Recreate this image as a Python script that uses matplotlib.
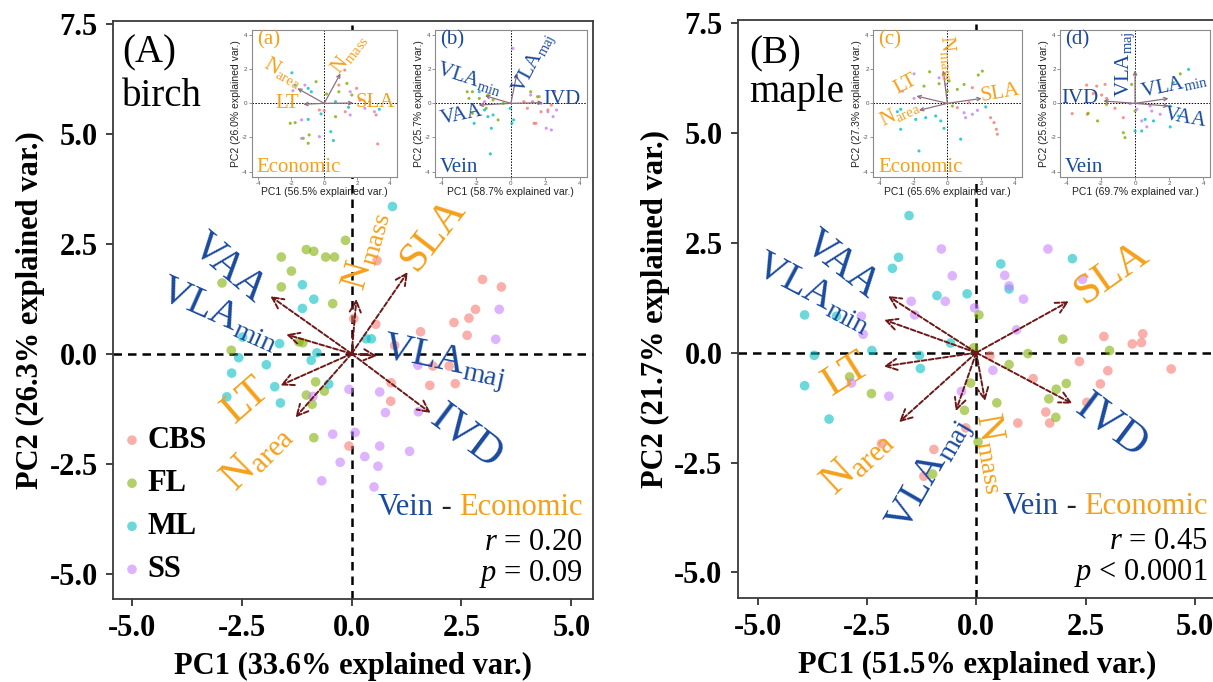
import matplotlib.pyplot as plt
from matplotlib.ticker import FormatStrFormatter

plt.rcParams['font.family'] = ['Liberation Serif', 'DejaVu Serif']
plt.rcParams['mathtext.fontset'] = 'custom'
plt.rcParams['mathtext.rm'] = 'Liberation Serif'
plt.rcParams['mathtext.it'] = 'Liberation Serif:italic'
plt.rcParams['axes.unicode_minus'] = False

groups = ['CBS', 'FL', 'ML', 'SS']
group_colors = ['#F8766D', '#7CAE00', '#00BFC4', '#C77CFF']
BLUE = '#1A4A9E'
ORANGE = '#F5A01A'
ARROW = '#6E1717'
INSET_ARROW = '#8E6E7E'

# ---- main PCA scores (PC1, PC2) ----
birch_pts = {
    'CBS': [(0.58, 2.12), (0.05, 0.8), (0.55, 0.67), (2.98, 1.69), (3.41, 1.52), (2.82, 1.01),
            (2.33, 0.71), (2.67, 0.81), (1.57, 0.5), (2.63, 0.42), (0.98, 0.19), (1.85, -0.28),
            (2.22, -0.28), (1.78, -0.72), (2.36, -0.68), (0.9, -0.66), (0.89, -1.08), (-0.06, -2.1)],
    'FL': [(-0.14, 2.58), (-1.6, 2.2), (-1.03, 2.37), (-0.86, 2.33), (-0.59, 2.2), (-0.39, 2.2),
           (-1.37, 1.88), (-2.95, 1.61), (-1.6, 1.52), (-0.43, 1.14), (-1.2, 0.27), (-1.11, 0.25),
           (-2.74, 0.08), (-0.82, -0.64), (-1.03, -0.94), (-0.62, -0.85), (-0.9, -1.15), (-0.86, -1.91)],
    'ML': [(0.93, 3.35), (-1.12, 1.57), (-0.86, 1.24), (-1.12, 1.03), (0.33, 0.34), (0.45, 0.34),
           (-2.48, 0.38), (-1.64, 0.23), (-0.79, 0.02), (-0.92, -0.15), (-2.57, -0.09), (-1.94, -0.25),
           (-2.73, -0.44), (-2.84, -0.98), (-1.75, -0.75), (-1.62, -1.12), (-0.52, -0.69)],
    'SS': [(3.36, 1.01), (3.28, 0.33), (1.51, -0.26), (-0.06, -0.81), (0.64, -0.87), (0.77, -1.34),
           (1.52, -1.32), (-0.88, -0.97), (-0.43, -1.83), (0.08, -1.79), (0.64, -2.1), (1.32, -2.22),
           (0.3, -2.34), (-0.26, -2.47), (0.6, -2.56), (-0.68, -2.89), (0.51, -3.03)],
}

maple_pts = {
    'CBS': [(2.92, 0.37), (3.57, 0.2), (3.78, 0.23), (3.81, 0.43), (2.36, -0.2), (3.01, -0.41),
            (4.46, -0.37), (1.3, -0.59), (2.84, -0.71), (0.31, -0.07), (2.53, -1.13), (1.59, -1.35),
            (0.95, -1.6), (1.68, -1.6), (-0.24, -1.71), (-0.97, -2.2), (-1.2, -2.81), (-2.17, -2.07)],
    'FL': [(0.06, 0.86), (1.98, 0.31), (3.05, 0.05), (1.18, -0.02), (0.75, -0.27), (-0.06, 0.11),
           (-2.9, -0.55), (-2.4, -0.93), (-0.13, -0.69), (0.47, -1.14), (-0.27, -1.31), (2.06, -0.7),
           (1.83, -0.83), (1.66, -1.05), (1.82, -1.47), (0.04, -2.03), (-1.0, -2.76)],
    'ML': [(-1.54, 3.12), (-1.78, 2.17), (-1.92, 1.92), (0.56, 2.02), (2.2, 2.14), (-0.9, 1.3),
           (-0.21, 1.34), (0.75, 1.45), (-3.93, 0.86), (-3.2, 0.83), (-0.59, 0.22), (-3.71, -0.06),
           (-2.39, 0.05), (-1.3, -0.06), (-1.28, -0.36), (-3.93, -0.75), (-3.37, -1.51)],
    'SS': [(-0.8, 2.36), (-0.55, 1.75), (0.65, 1.76), (0.75, 1.52), (1.64, 2.36), (1.08, 1.22),
           (2.43, 1.67), (-1.49, 1.17), (-0.71, 1.17), (-1.41, 0.86), (-0.04, 1.02), (-2.63, 0.83),
           (-2.59, 0.42), (0.92, 0.52), (0.38, -0.4), (-2.86, -0.69), (-2.0, -0.99), (-0.34, -0.88)],
}

# ---- loadings (arrow tips) ----
birch_traits = ['VAA', 'VLAmin', 'Nmass', 'SLA', 'VLAmaj', 'IVD', 'LT', 'Narea']
birch_load_x = [-1.85, -1.49, 0.11, 1.28, 0.58, 1.8, -1.62, -1.28]
birch_load_y = [1.31, 0.44, 1.25, 1.86, -0.05, -1.35, -0.72, -1.45]

maple_traits = ['VAA', 'VLAmin', 'SLA', 'LT', 'Narea', 'VLAmaj', 'Nmass', 'IVD']
maple_load_x = [-2.02, -2.11, 2.12, -2.12, -1.77, -0.47, 0.2, 2.2]
maple_load_y = [1.29, 0.75, 1.17, -0.31, -1.58, -1.33, -1.1, -1.16]

# ---- inset PCAs: economic traits and vein traits ----
inset_a_pts = {
    'CBS': [(1.25, 1.95), (0.89, 1.07), (1.97, 0.88), (-0.29, -0.39), (0.0, -0.43), (1.28, -0.49),
            (2.76, 0.1), (3.15, -0.68), (3.25, -2.38), (2.17, 0.19)],
    'FL': [(-0.49, 1.27), (0.14, 0.55), (0.89, 0.68), (1.38, 1.17), (1.68, 0.49), (-2.06, -1.17),
           (-1.76, -1.13), (-1.27, -2.05), (-0.91, -1.85), (-0.97, -2.34), (0.69, -0.78)],
    'ML': [(-1.96, 1.79), (-0.97, 0.88), (-0.78, 0.68), (-1.76, 1.07), (-0.97, -0.94), (0.4, -1.66),
           (0.56, -2.18), (0.69, 0.1), (1.48, -0.23), (3.35, -0.35), (-0.19, -0.62)],
    'SS': [(-1.9, 0.74), (-1.17, 1.07), (-1.37, -0.97), (-1.37, -2.05), (-0.29, -1.95), (1.58, -0.68),
           (1.58, 0.68), (3.05, -0.49), (2.47, -0.29)],
}
inset_a_traits = ['Narea', 'Nmass', 'LT', 'SLA']
inset_a_x = [-1.63, 0.99, -1.27, 1.77]
inset_a_y = [0.88, 1.75, -0.05, 0.02]

inset_b_pts = {
    'CBS': [(0.76, 0.1), (0.96, -0.29), (1.26, 0.1), (1.65, 0.39), (1.75, -0.49), (1.35, -1.17),
            (1.45, -1.17), (2.15, -0.39), (2.55, 0.68), (2.35, -0.1)],
    'FL': [(-2.53, 0.68), (-2.23, 0.68), (-2.43, 0.29), (-1.83, 0.29), (-1.33, 0.49), (-1.03, 0.2),
           (-0.44, 0.0), (-2.23, -0.58), (-1.43, -0.29), (-0.74, -0.97), (1.15, 0.68), (1.55, 0.39)],
    'ML': [(-1.13, -1.46), (-1.19, -2.96), (-1.83, 0.68), (-1.53, -0.39), (-2.13, -1.17), (-1.33, -0.78),
           (-1.03, -0.68), (-0.04, -0.29), (0.16, -0.97), (0.06, -1.17)],
    'SS': [(0.12, 3.22), (-1.53, 0.1), (1.15, 0.49), (1.75, 0.0), (2.15, -0.49), (2.65, -0.39),
           (2.45, -0.78), (2.05, -1.46), (2.35, -1.56)],
}
inset_b_traits = ['VLAmin', 'VLAmaj', 'IVD', 'VAA']
inset_b_x = [-1.5, 0.36, 1.85, -1.87]
inset_b_y = [0.45, 1.79, 0.04, -0.1]

inset_c_pts = {
    'CBS': [(1.48, 0.92), (2.56, -0.84), (2.76, -1.13), (2.9, -1.52), (2.96, -1.81), (0.59, -0.25),
            (1.28, 0.04)],
    'FL': [(-1.05, 1.85), (-0.49, 1.15), (0.1, 1.31), (0.0, 0.72), (0.59, 0.82), (0.99, 1.11),
           (1.83, 1.66), (2.07, 1.89), (-1.38, 1.01), (0.3, -0.16)],
    'ML': [(-2.76, -0.35), (-2.96, -0.49), (-1.87, -0.94), (-1.28, -0.84), (-0.69, -0.74), (-0.39, -1.03),
           (-0.2, -1.46), (-2.76, -1.52), (-1.68, -2.79), (0.79, -2.1), (2.27, -0.21)],
    'SS': [(-1.97, 1.73), (-2.66, 0.72), (-1.97, 0.29), (0.99, -0.55), (1.08, -0.84), (1.48, -0.64),
           (1.78, -0.41), (-0.1, 1.11), (-0.49, 1.5)],
}
inset_c_traits = ['LT', 'Narea', 'Nmass', 'SLA']
inset_c_x = [-1.83, -1.68, -0.24, 2.03]
inset_c_y = [0.43, -0.41, 1.93, 0.29]

inset_d_pts = {
    'CBS': [(-2.84, 1.07), (-2.25, 1.01), (-1.76, 1.11), (-2.45, 0.57), (-1.96, 0.49), (-1.67, 0.29),
            (-2.8, -0.64), (-3.69, -0.6), (-1.18, -0.29), (-0.69, -0.84)],
    'FL': [(-2.75, -0.58), (-2.2, -1.03), (-0.69, -1.72), (-0.59, -2.01), (-0.2, 1.11), (2.65, 1.73),
           (-1.67, -0.06), (0.0, -0.45)],
    'ML': [(3.14, 1.99), (2.25, 1.21), (2.06, -0.16), (1.08, -1.03), (0.59, -0.94), (0.39, -1.62),
           (0.0, -1.62), (2.55, -0.74), (2.06, -1.38)],
    'SS': [(0.1, -0.35), (0.39, -1.03), (0.69, -1.38), (0.98, -0.45), (1.47, -0.64), (0.88, -0.16),
           (-0.29, -0.02)],
}
inset_d_traits = ['VLAmaj', 'IVD', 'VLAmin', 'VAA']
inset_d_x = [0.0, -1.86, 1.96, 1.96]
inset_d_y = [1.93, 0.14, 0.29, -0.16]

trait_text = {
    'VAA': 'VAA', 'IVD': 'IVD', 'LT': 'LT', 'SLA': 'SLA',
    'VLAmin': r'VLA$_{\mathrm{min}}$', 'VLAmaj': r'VLA$_{\mathrm{maj}}$',
    'Nmass': r'N$_{\mathrm{mass}}$', 'Narea': r'N$_{\mathrm{area}}$',
}
trait_color = {'VAA': BLUE, 'IVD': BLUE, 'VLAmin': BLUE, 'VLAmaj': BLUE,
               'LT': ORANGE, 'SLA': ORANGE, 'Nmass': ORANGE, 'Narea': ORANGE}

# label placement: (x, y, rotation, fontsize)
birch_lab = {
    'VAA': (-2.8, 1.95, -40, 30), 'VLAmin': (-3.0, 0.9, -24, 29), 'Nmass': (0.33, 2.35, 74, 27),
    'SLA': (1.85, 2.7, 52, 31), 'VLAmaj': (2.1, -0.2, -12, 29), 'IVD': (2.6, -1.9, -37, 32),
    'LT': (-2.4, -1.06, 41, 31), 'Narea': (-2.15, -2.35, 45, 30),
}
maple_lab = {
    'VAA': (-3.09, 2.0, -38, 30), 'VLAmin': (-3.72, 1.36, -28, 29), 'SLA': (3.09, 1.81, 35, 31),
    'LT': (-2.97, -0.5, 32, 31), 'Narea': (-2.72, -2.47, 43, 30), 'VLAmaj': (-1.05, -2.8, 60, 29),
    'Nmass': (0.38, -2.28, -80, 27), 'IVD': (3.09, -1.67, -37, 32),
}
inset_a_lab = {'Narea': (-2.5, 1.85, -30, 15), 'Nmass': (1.5, 2.9, 52, 15),
               'LT': (-2.25, 0.0, 0, 15), 'SLA': (3.1, 0.05, 0, 15)}
inset_b_lab = {'VLAmin': (-2.4, 1.45, -18, 15), 'VLAmaj': (1.35, 2.35, 62, 15),
               'IVD': (2.95, 0.2, 0, 15), 'VAA': (-2.85, -0.7, 12, 15)}
inset_c_lab = {'LT': (-2.45, 1.1, 28, 15), 'Narea': (-2.85, -0.55, 25, 15),
               'Nmass': (0.05, 2.65, -85, 15), 'SLA': (3.15, 0.6, 10, 15)}
inset_d_lab = {'VLAmaj': (-0.6, 2.3, 90, 15), 'IVD': (-3.25, 0.3, 0, 15),
               'VLAmin': (2.3, 1.1, 12, 15), 'VAA': (2.95, -0.85, -10, 15)}


def draw_main(ax, pts, traits, lx, ly, lab, xlabel, ylabel):
    for g, c in zip(groups, group_colors):
        xs = [p[0] for p in pts[g]]
        ys = [p[1] for p in pts[g]]
        ax.scatter(xs, ys, s=48, color=c, alpha=0.58, edgecolors='none', label=g, zorder=2)
    ax.axhline(0, color='black', lw=1.8, ls=(0, (3.4, 2.4)), zorder=1)
    ax.axvline(0, color='black', lw=1.8, ls=(0, (3.4, 2.4)), zorder=1)
    for t, x, y in zip(traits, lx, ly):
        ax.annotate('', xy=(x, y), xytext=(0, 0),
                    arrowprops=dict(arrowstyle='->', color=ARROW, lw=1.4, ls=(0, (2.5, 1.2)),
                                    mutation_scale=20, shrinkA=0, shrinkB=0), zorder=3)
        tx, ty, rot, fs = lab[t]
        ax.text(tx, ty, trait_text[t], color=trait_color[t], fontsize=fs, rotation=rot,
                ha='center', va='center', rotation_mode='anchor', zorder=4)
    ax.set_xlim(-5.43, 5.49)
    ax.set_ylim(-5.58, 7.57)
    ax.set_xticks([-5.0, -2.5, 0.0, 2.5, 5.0])
    ax.set_yticks([-5.0, -2.5, 0.0, 2.5, 5.0, 7.5])
    ax.xaxis.set_major_formatter(FormatStrFormatter('%.1f'))
    ax.yaxis.set_major_formatter(FormatStrFormatter('%.1f'))
    ax.tick_params(direction='out', length=5, width=1.3, color='#333333', labelsize=22, pad=6)
    plt.setp(ax.get_xticklabels() + ax.get_yticklabels(), fontweight='bold')
    for sp in ax.spines.values():
        sp.set_linewidth(1.3)
        sp.set_color('#3a3a3a')
    ax.set_xlabel(xlabel, fontsize=22, fontweight='bold', labelpad=6)
    ax.set_ylabel(ylabel, fontsize=22, fontweight='bold', labelpad=3)


def draw_stats(ax, x, r_txt, p_txt):
    econ = ax.text(x, -3.67, 'Economic', color=ORANGE, fontsize=22, ha='right', va='baseline')
    dash = ax.annotate(' - ', xy=(0, 0), xycoords=econ, ha='right', va='bottom',
                       fontsize=22, color='#222222')
    ax.annotate('Vein', xy=(0, 0), xycoords=dash, ha='right', va='bottom', fontsize=22, color=BLUE)
    ax.text(x, -4.47, r_txt, fontsize=22, ha='right', va='baseline')
    ax.text(x, -5.17, p_txt, fontsize=22, ha='right', va='baseline')


def draw_inset(rect, pts, traits, lx, ly, lab, tag, group_name, color, xlabel, ylabel):
    ia = fig.add_axes(rect)
    ia.set_facecolor('white')
    for g, c in zip(groups, group_colors):
        ia.scatter([p[0] for p in pts[g]], [p[1] for p in pts[g]], s=5, color=c,
                   alpha=0.8, edgecolors='none', zorder=2)
    ia.axhline(0, color='black', lw=0.7, ls=(0, (1.5, 1.5)), zorder=1)
    ia.axvline(0, color='black', lw=0.7, ls=(0, (1.5, 1.5)), zorder=1)
    for t, x, y in zip(traits, lx, ly):
        ia.annotate('', xy=(x, y), xytext=(0, 0),
                    arrowprops=dict(arrowstyle='->', color=INSET_ARROW, lw=0.9,
                                    mutation_scale=6, shrinkA=0, shrinkB=0), zorder=3)
        tx, ty, rot, fs = lab[t]
        ia.text(tx, ty, trait_text[t], color=color, fontsize=fs, rotation=rot,
                ha='center', va='center', rotation_mode='anchor', zorder=4)
    ia.text(-4.1, 3.7, tag, color=color, fontsize=15, ha='left', va='center')
    ia.text(-4.1, -3.75, group_name, color=color, fontsize=15, ha='left', va='center')
    ia.set_xlim(-4.4, 4.4)
    ia.set_ylim(-4.3, 4.3)
    ia.set_xticks([-4, -2, 0, 2, 4])
    ia.set_yticks([-4, -2, 0, 2, 4])
    ia.tick_params(length=2, width=0.5, color='#666666', labelsize=4.5, labelcolor='#555555', pad=1)
    for lbl in ia.get_xticklabels() + ia.get_yticklabels():
        lbl.set_family('Liberation Sans')
    for sp in ia.spines.values():
        sp.set_linewidth(0.8)
        sp.set_color('#8a8a8a')
    ia.set_xlabel(xlabel, fontsize=7.5, family='Liberation Sans', labelpad=1, color='#222222')
    ia.set_ylabel(ylabel, fontsize=7.5, family='Liberation Sans', labelpad=1, color='#222222')
    return ia


fig = plt.figure(figsize=(12.13, 6.82), dpi=100)

axA = fig.add_axes([0.0932, 0.1217, 0.3955, 0.8475])
draw_main(axA, birch_pts, birch_traits, birch_load_x, birch_load_y, birch_lab,
          'PC1 (33.6% explained var.)', 'PC2 (26.3% explained var.)')
axA.text(-5.22, 6.62, '(A)', fontsize=28, ha='left', va='baseline')
axA.text(-5.22, 5.63, 'birch', fontsize=28, ha='left', va='baseline')
draw_stats(axA, 5.26, r'$r$ = 0.20', r'$p$ = 0.09')
axA.legend(loc='upper left', bbox_to_anchor=(0.014, 0.299), frameon=False, borderpad=0,
           borderaxespad=0, handlelength=0.8, handletextpad=0.1, labelspacing=0.46,
           prop=dict(family='Liberation Serif', weight='bold', size=22))

axB = fig.add_axes([0.6082, 0.1232, 0.3955, 0.8475])
draw_main(axB, maple_pts, maple_traits, maple_load_x, maple_load_y, maple_lab,
          'PC1 (51.5% explained var.)', 'PC2 (21.7% explained var.)')
axB.set_xlim(-5.46, 5.52)
axB.text(-5.19, 6.59, '(B)', fontsize=28, ha='left', va='baseline')
axB.text(-5.19, 5.7, 'maple', fontsize=28, ha='left', va='baseline')
draw_stats(axB, 5.29, r'$r$ = 0.45', r'$p$ < 0.0001')

draw_inset([0.2075, 0.7409, 0.1195, 0.2151], inset_a_pts, inset_a_traits, inset_a_x, inset_a_y,
           inset_a_lab, '(a)', 'Economic', ORANGE,
           'PC1 (56.5% explained var.)', 'PC2 (26.0% explained var.)')
draw_inset([0.3586, 0.7409, 0.1251, 0.2151], inset_b_pts, inset_b_traits, inset_b_x, inset_b_y,
           inset_b_lab, '(b)', 'Vein', BLUE,
           'PC1 (58.7% explained var.)', 'PC2 (25.7% explained var.)')
draw_inset([0.7197, 0.7409, 0.1226, 0.2151], inset_c_pts, inset_c_traits, inset_c_x, inset_c_y,
           inset_c_lab, '(c)', 'Economic', ORANGE,
           'PC1 (65.6% explained var.)', 'PC2 (27.3% explained var.)')
draw_inset([0.8739, 0.7409, 0.1237, 0.2151], inset_d_pts, inset_d_traits, inset_d_x, inset_d_y,
           inset_d_lab, '(d)', 'Vein', BLUE,
           'PC1 (69.7% explained var.)', 'PC2 (25.6% explained var.)')

fig.savefig('out.png', dpi=100)
